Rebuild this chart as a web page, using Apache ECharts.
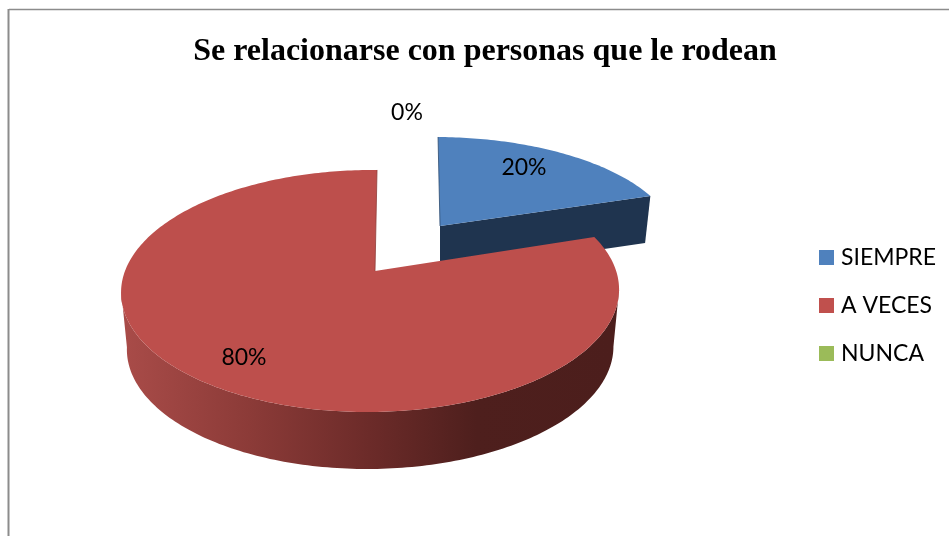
<!DOCTYPE html>
<html>
<head>
<meta charset="utf-8">
<style>html,body{margin:0;padding:0;background:#fff}#c{width:949px;height:536px}</style>
<script src="https://cdn.jsdelivr.net/npm/echarts@6/dist/echarts.min.js"></script>
</head>
<body>
<div id="c"></div>
<script>
const chartTitle = 'Se relacionarse con personas que le rodean';
const categories = ['SIEMPRE', 'A VECES', 'NUNCA'];
const values = [20, 80, 0];

const topColors = ['#4f81bd', '#bd4f4c', '#9bbb59'];
const legendColors = ['#4f81bd', '#c0504d', '#9bbb59'];
const labelAnchors = [[524, 168], [244, 358], [407, 113]];
// Perspective projection of each slice's disc (apex pixel, radii, tilt, depth)
const views = [
  { ax: 440, ay: 226, S: 237, T: 103.7, k: 0.165, j: 0.018, m: 0.022, dz: 47, shrink: 0.975 },
  { ax: 375, ay: 271, S: 245.5, T: 117.7, k: 0.165, j: 0.018, m: -0.02, dz: 57, shrink: 0.977 },
  { ax: 375, ay: 271, S: 245.5, T: 117.7, k: 0.165, j: 0.018, m: -0.02, dz: 57, shrink: 0.977 }
];
const total = values.reduce((a, b) => a + b, 0);

function project(v, deg, r, lower) {
  const t = deg * Math.PI / 180;
  const U = r * Math.sin(t), V = r * Math.cos(t);
  const W = 1 + v.k * V + v.j * U;
  const s = lower ? v.shrink : 1;
  const dy = -v.T * V / W;
  return [v.ax + s * v.S * U / W + v.m * dy, v.ay + dy + (lower ? v.dz : 0)];
}
function rim(v, from, to, lower) {
  const pts = [];
  const n = Math.max(2, Math.ceil(Math.abs(to - from)));
  for (let i = 0; i <= n; i++) pts.push(project(v, from + (to - from) * i / n, 1, lower));
  return pts;
}
function renderSlice(params, api) {
  const idx = params.seriesIndex;
  const value = api.value(0);
  const v = views[idx];
  const start = values.slice(0, idx).reduce((a, b) => a + b, 0) / total * 360;
  const end = start + value / total * 360;
  const children = [];
  if (value > 0) {
    // outer wall, visible only on the front half of the disc
    const a = Math.max(start, 99), b = Math.min(end, 261);
    if (b > a) {
      children.push({
        type: 'polygon', silent: true,
        shape: { points: rim(v, a, b, false).concat(rim(v, b, a, true)) },
        style: { fill: new echarts.graphic.LinearGradient(127, 0, 612, 0, [
          { offset: 0, color: '#a84b48' },
          { offset: 0.25, color: '#8c3b38' },
          { offset: 0.5, color: '#6c2b29' },
          { offset: 0.72, color: '#4e1f1d' },
          { offset: 1, color: '#4c1e1c' }
        ], true) }
      });
    }
    // cut face at the end of the slice when it looks toward the viewer
    if (end < 99) {
      const p = project(v, end, 1, false), q = project(v, end, 1, true);
      const a0 = project(v, end, 0, false), a1 = project(v, end, 0, true);
      children.push({
        type: 'polygon', silent: true,
        shape: { points: [a0, p, q, a1] },
        style: { fill: '#1f344f' }
      });
    }
    // top face
    children.push({
      type: 'polygon', silent: true,
      shape: { points: [project(v, 0, 0, false)].concat(rim(v, start, end, false)) },
      style: { fill: topColors[idx] }
    });
    // thin dark edge on the cut along 12 o'clock
    const cut = idx === 0 ? start : end;
    children.push({
      type: 'line', silent: true,
      shape: {
        x1: project(v, 0, 0, false)[0], y1: project(v, 0, 0, false)[1],
        x2: project(v, cut, 1, false)[0], y2: project(v, cut, 1, false)[1]
      },
      style: { stroke: idx === 0 ? '#2c4a6e' : '#8e3d3a', lineWidth: 1, opacity: 0.8 }
    });
  }
  children.push({
    type: 'text', silent: true, z2: 50,
    style: {
      x: labelAnchors[idx][0], y: labelAnchors[idx][1],
      text: Math.round(value / total * 100) + '%',
      fill: '#000', font: '23px Lato',
      align: 'center', verticalAlign: 'middle'
    }
  });
  return { type: 'group', children };
}

const chart = echarts.init(document.getElementById('c'), null, { renderer: 'canvas' });
chart.setOption({
  animation: false,
  backgroundColor: '#ffffff',
  title: {
    text: chartTitle,
    left: 480, top: 31, textAlign: 'center',
    textStyle: { fontFamily: 'Liberation Serif', fontWeight: 'bold', fontSize: 32, color: '#000' }
  },
  legend: {
    orient: 'vertical', left: 814, top: 241,
    itemWidth: 15, itemHeight: 15, itemGap: 25,
    icon: 'rect',
    selectedMode: false,
    data: categories,
    textStyle: { fontFamily: 'Lato', fontSize: 23, color: '#000', padding: [0, 0, 0, 2], lineHeight: 15 }
  },
  graphic: [
    { type: 'line', silent: true, shape: { x1: 9, y1: 9.5, x2: 949, y2: 9.5 }, style: { stroke: '#8c8c8c', lineWidth: 1.5 } },
    { type: 'line', silent: true, shape: { x1: 8.5, y1: 9, x2: 8.5, y2: 536 }, style: { stroke: '#8c8c8c', lineWidth: 2 } }
  ],
  series: categories.map((name, i) => ({
    type: 'custom',
    name,
    coordinateSystem: 'none',
    itemStyle: { color: legendColors[i] },
    renderItem: renderSlice,
    data: [values[i]],
    z: 2 + i
  }))
});
</script>
</body>
</html>
